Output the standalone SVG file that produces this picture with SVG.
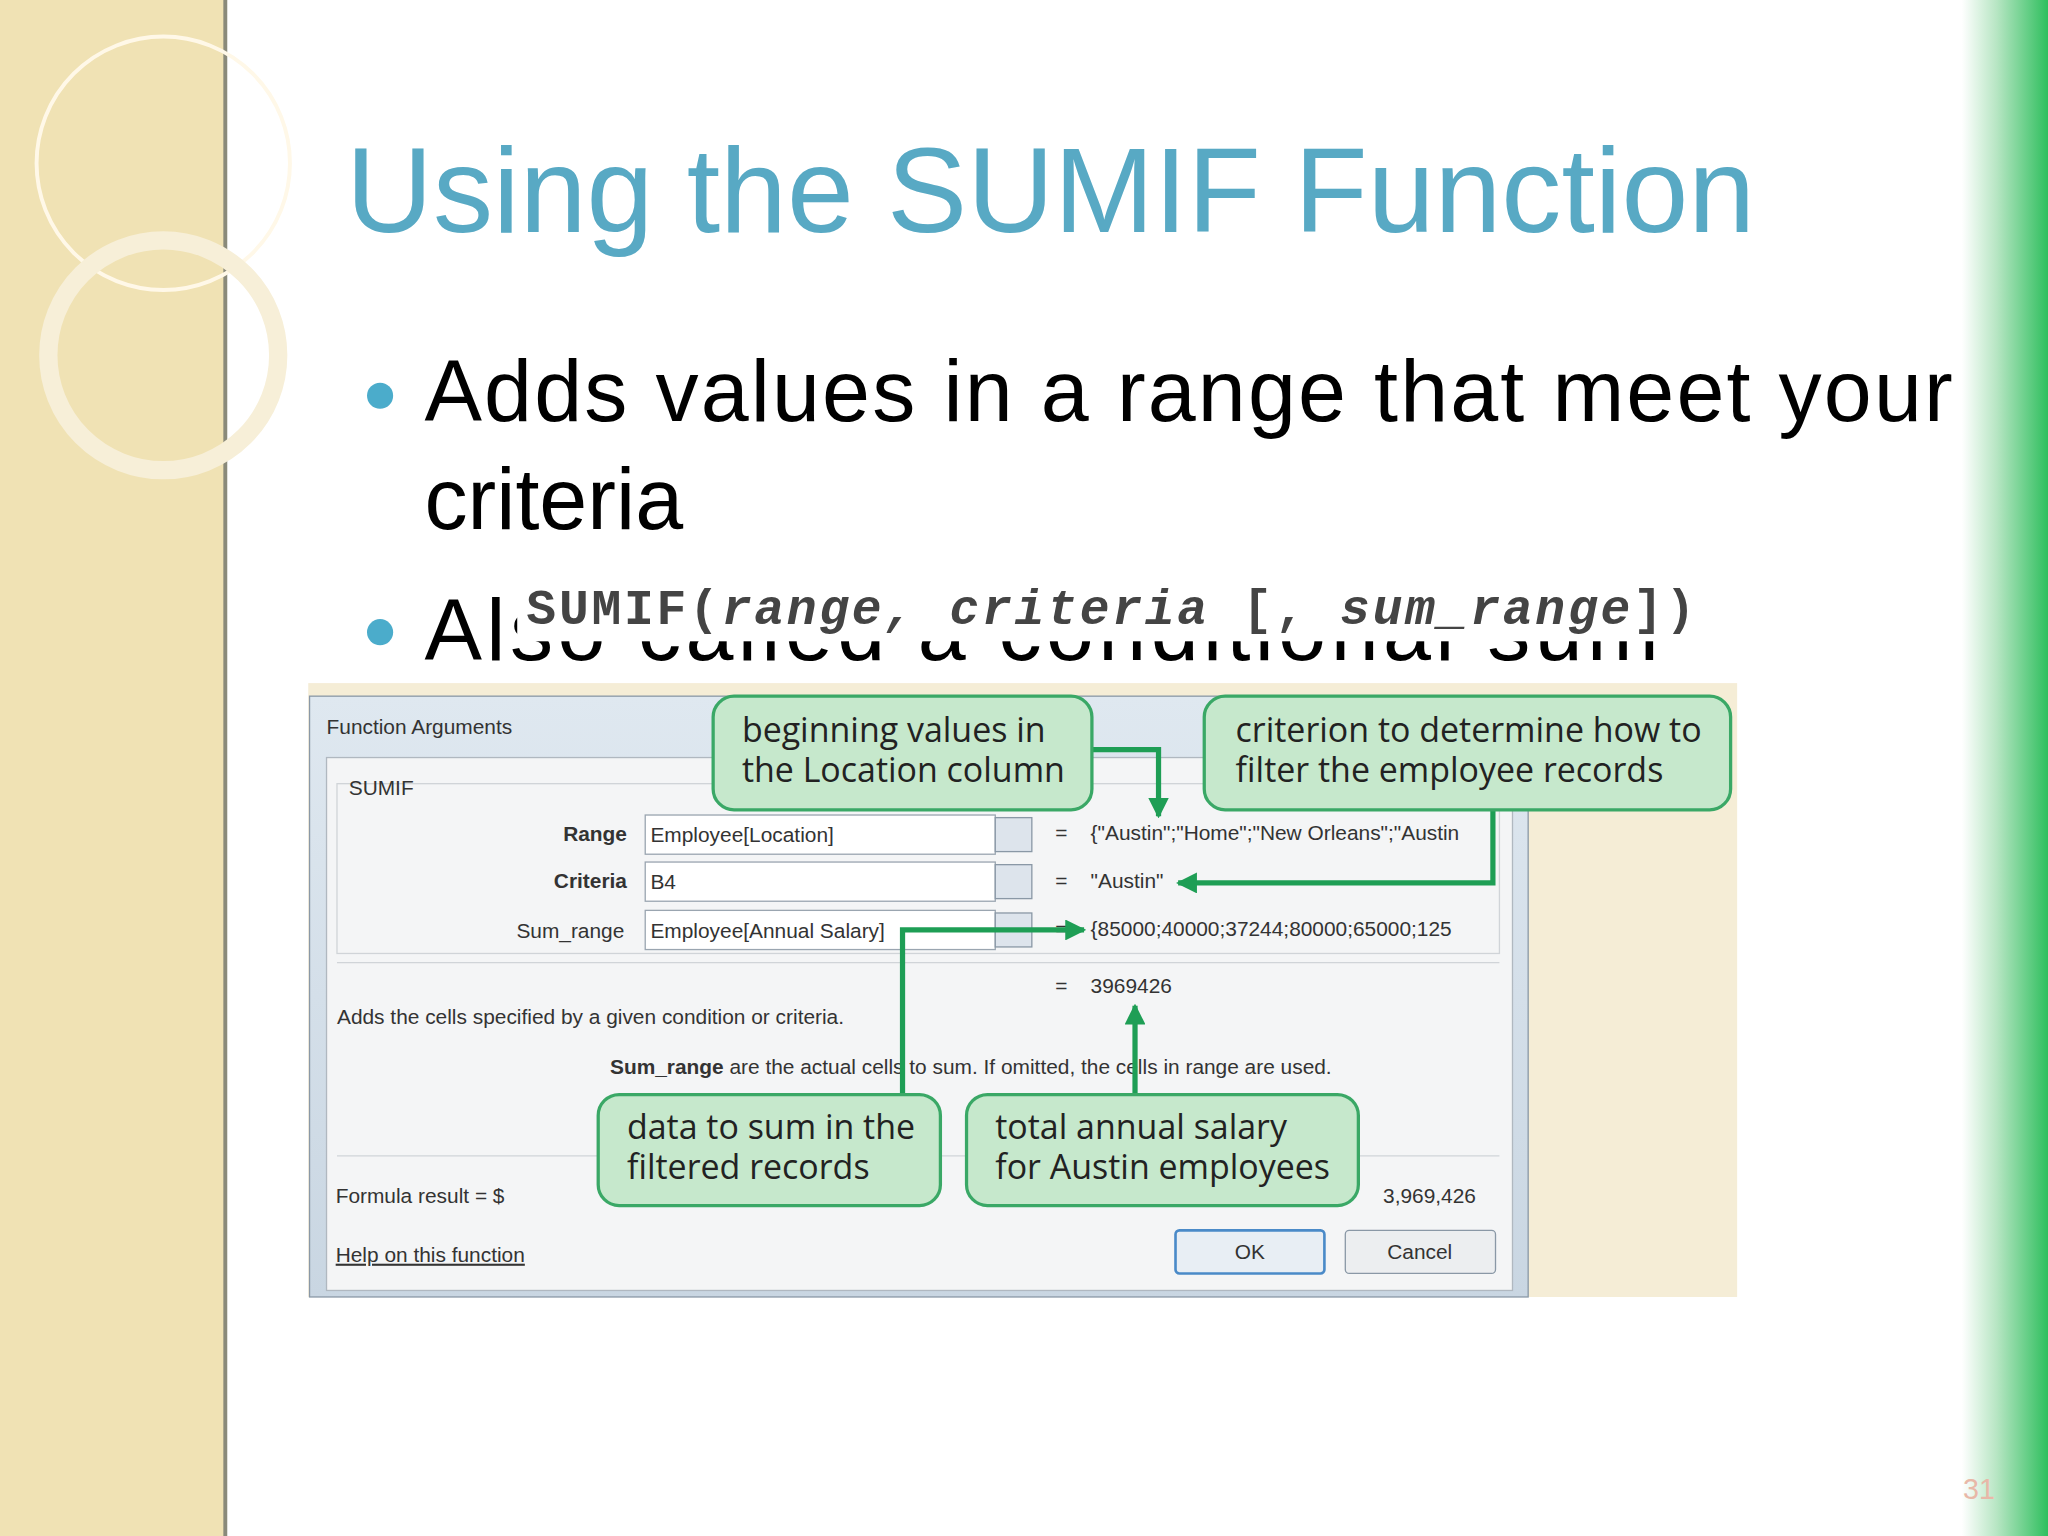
<svg xmlns="http://www.w3.org/2000/svg" width="2048" height="1536" viewBox="0 0 2048 1536">
<defs>
<linearGradient id="gr" x1="0" x2="1" y1="0" y2="0"><stop offset="0" stop-color="#ffffff"/><stop offset="0.4" stop-color="#b8e6c4"/><stop offset="1" stop-color="#2fbf5e"/></linearGradient>
<linearGradient id="dlg" x1="0" x2="0" y1="0" y2="1"><stop offset="0" stop-color="#dfe8f0"/><stop offset="1" stop-color="#c9d6e2"/></linearGradient>
<marker id="ah" viewBox="0 0 10 10" refX="9" refY="5" markerWidth="4" markerHeight="4" orient="auto"><path d="M0,0 L10,5 L0,10 z" fill="#1e9e55"/></marker>
<style>
.co{fill:#c6e8cc;stroke:#3aa866;stroke-width:2.5}
.ct{font-family:"Open Sans","DejaVu Sans",sans-serif;font-size:26px;fill:#222}
.dt{font-family:"Liberation Sans",Arial,sans-serif;font-size:16px;fill:#333}
.ar{fill:none;stroke:#1e9e55;stroke-width:4;marker-end:url(#ah)}
.box{fill:#fff;stroke:#9aa5b0;stroke-width:1}
</style>
</defs>
<g transform="scale(1.306122)">
<rect width="1568" height="1176" fill="#fff"/>
<g id="leftband">
<rect x="0" y="0" width="173" height="1176" fill="#f0e2b4"/>
<rect x="171" y="0" width="3" height="1176" fill="#8a8a7a"/>
<circle cx="125" cy="125" r="97" fill="none" stroke="#fff8e8" stroke-width="3"/>
<circle cx="125" cy="272" r="88" fill="none" stroke="#f7efd8" stroke-width="14"/>
</g>
<rect x="1502" y="0" width="66" height="1176" fill="url(#gr)"/>
<text x="265" y="178" font-family="'Liberation Sans',Arial,sans-serif" font-size="92" fill="#58a9c4">Using the SUMIF Function</text>
<g id="bullets" font-family="'Liberation Sans',Arial,sans-serif" font-size="66" fill="#000">
<circle cx="291" cy="303" r="10" fill="#4baccb"/>
<text x="325" y="322" textLength="1170" lengthAdjust="spacing">Adds values in a range that meet your</text>
<text x="325" y="405">criteria</text>
<circle cx="291" cy="484" r="10" fill="#4baccb"/>
<text x="325" y="505" textLength="945" lengthAdjust="spacing">Also called a conditional sum</text>
</g>
<rect x="396" y="443" width="910" height="48" fill="#fff"/>
<text x="403" y="478" font-family="'Liberation Mono','Courier New',monospace" font-weight="bold" font-size="38" fill="#444" textLength="895" lengthAdjust="spacing"><tspan>SUMIF(</tspan><tspan font-style="italic">range, criteria </tspan><tspan>[, </tspan><tspan font-style="italic">sum_range</tspan><tspan>])</tspan></text>
<g id="dialog">
<rect x="236" y="523" width="1094" height="470" fill="#f5edd6"/>
<rect x="237" y="533" width="933" height="460" fill="url(#dlg)" stroke="#8a98a6"/>
<rect x="250" y="580" width="908" height="408" fill="#f4f5f6" stroke="#b0b8c0"/>
<text x="250" y="562" class="dt" font-size="17" fill="#555">Function Arguments</text>
<rect x="258" y="600" width="890" height="130" fill="none" stroke="#d0d4d8"/>
<text x="267" y="609" class="dt">SUMIF</text>
<text x="480" y="644" class="dt" font-weight="bold" text-anchor="end">Range</text>
<text x="480" y="680" class="dt" font-weight="bold" text-anchor="end">Criteria</text>
<text x="478" y="718" class="dt" text-anchor="end">Sum_range</text>
<rect x="494" y="624" width="268" height="30" class="box"/>
<rect x="494" y="660" width="268" height="30" class="box"/>
<rect x="494" y="697" width="268" height="30" class="box"/>
<rect x="762" y="626" width="28" height="26" fill="#dde4ec" stroke="#8a98a6"/>
<rect x="762" y="662" width="28" height="26" fill="#dde4ec" stroke="#8a98a6"/>
<rect x="762" y="699" width="28" height="26" fill="#dde4ec" stroke="#8a98a6"/>
<text x="498" y="645" class="dt">Employee[Location]</text>
<text x="498" y="681" class="dt">B4</text>
<text x="498" y="718" class="dt">Employee[Annual Salary]</text>
<text x="808" y="643" class="dt">=</text><text x="835" y="643" class="dt">{"Austin";"Home";"New Orleans";"Austin</text>
<text x="808" y="680" class="dt">=</text><text x="835" y="680" class="dt">"Austin"</text>
<text x="808" y="717" class="dt">=</text><text x="835" y="717" class="dt">{85000;40000;37244;80000;65000;125</text>
<line x1="258" y1="737" x2="1148" y2="737" stroke="#d0d4d8"/>
<text x="808" y="760" class="dt">=</text><text x="835" y="760" class="dt">3969426</text>
<text x="258" y="784" class="dt">Adds the cells specified by a given condition or criteria.</text>
<text x="467" y="822" class="dt"><tspan font-weight="bold">Sum_range</tspan>  are the actual cells to sum. If omitted, the cells in range are used.</text>
<line x1="258" y1="885" x2="1148" y2="885" stroke="#d0d4d8"/>
<text x="257" y="921" class="dt">Formula result =   $</text>
<text x="1130" y="921" class="dt" text-anchor="end">3,969,426</text>
<text x="257" y="966" class="dt" fill="#2a6bc0" text-decoration="underline">Help on this function</text>
<rect x="900" y="942" width="114" height="33" rx="3" fill="#e8eef4" stroke="#4a8ac8" stroke-width="2"/>
<text x="957" y="964" class="dt" text-anchor="middle">OK</text>
<rect x="1030" y="942" width="115" height="33" rx="3" fill="#eceef0" stroke="#8a98a6"/>
<text x="1087" y="964" class="dt" text-anchor="middle">Cancel</text>
</g>
<g id="connectors">
<path class="ar" d="M836,574 H887 V625"/>
<path class="ar" d="M1143,620 V676 H902"/>
<path class="ar" d="M691,838 V712 H830"/>
<path class="ar" d="M869,838 V770"/>
</g>
<g id="c1"><rect x="546" y="533" width="290" height="87" rx="16" class="co"/><text class="ct" x="568" y="568">beginning values in</text><text class="ct" x="568" y="599">the Location column</text></g>
<g id="c2"><rect x="922" y="533" width="403" height="87" rx="16" class="co"/><text class="ct" x="946" y="568">criterion to determine how to</text><text class="ct" x="946" y="599">filter the employee records</text></g>
<g id="c3"><rect x="458" y="838" width="262" height="85" rx="16" class="co"/><text class="ct" x="480" y="872">data to sum in the</text><text class="ct" x="480" y="903">filtered records</text></g>
<g id="c4"><rect x="740" y="838" width="300" height="85" rx="16" class="co"/><text class="ct" x="762" y="872">total annual salary</text><text class="ct" x="762" y="903">for Austin employees</text></g>
<text x="1503" y="1148" font-family="'Liberation Sans',Arial,sans-serif" font-size="22" fill="#e8b8a8">31</text>
</g>
</svg>
